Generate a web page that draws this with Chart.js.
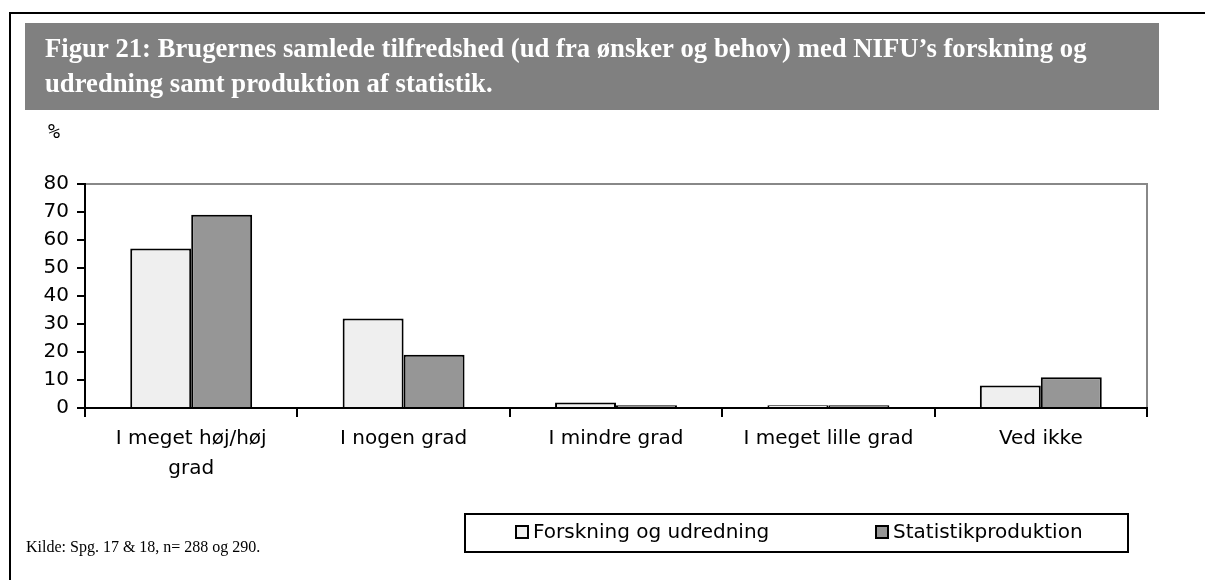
<!DOCTYPE html>
<html>
<head>
<meta charset="utf-8">
<script src="https://cdn.jsdelivr.net/npm/chart.js@4"></script>
<style>
  html, body { margin: 0; padding: 0; background: #fff; }
  #wrap { width: 1205px; height: 580px; position: relative; }
</style>
</head>
<body>
<div id="wrap"><canvas id="myChart" width="1205" height="580"></canvas></div>
<script>
// Chart data
const categories = [['I meget høj/høj', 'grad'], 'I nogen grad', 'I mindre grad', 'I meget lille grad', 'Ved ikke'];
const forskning = [57, 32, 2, 1, 8];
const statistik = [69, 19, 1, 1, 11];
const seriesNames = ['Forskning og udredning', 'Statistikproduktion'];
const yMax = 80;
const yStep = 10;

const titleLines = [
    'Figur 21: Brugernes samlede tilfredshed (ud fra ønsker og behov) med NIFU\u2019s forskning og',
    'udredning samt produktion af statistik.'
];
const sourceText = 'Kilde: Spg. 17 & 18, n= 288 og 290.';

const labelFont = '"DejaVu Sans", sans-serif';

// Frame, title box, % label, source, plot border and legend box
const decorations = {
    id: 'decorations',
    beforeDraw(chart) {
        const c = chart.ctx;
        c.save();
        c.fillStyle = '#fff';
        c.fillRect(0, 0, chart.width, chart.height);
        // outer frame (left + top)
        c.strokeStyle = '#000';
        c.lineWidth = 2;
        c.beginPath();
        c.moveTo(10, 580);
        c.lineTo(10, 13);
        c.lineTo(1205, 13);
        c.stroke();
        // title box
        c.fillStyle = '#808080';
        c.fillRect(25, 23, 1134, 87);
        c.fillStyle = '#fff';
        c.font = 'bold 26.7px "Liberation Serif", "Times New Roman", serif';
        c.textBaseline = 'alphabetic';
        c.fillText(titleLines[0], 45, 57);
        c.fillText(titleLines[1], 45, 92);
        // % label
        c.fillStyle = '#000';
        c.font = '20px "DejaVu Sans Mono", monospace';
        c.fillText('%', 48, 138);
        // source
        c.font = '16px "Liberation Serif", "Times New Roman", serif';
        c.fillText(sourceText, 26, 552);
        c.restore();
    },
    afterDraw(chart) {
        const c = chart.ctx;
        const a = chart.chartArea;
        c.save();
        // gray top/right border of plot area
        c.strokeStyle = '#888';
        c.lineWidth = 2;
        c.beginPath();
        c.moveTo(a.left + 1, a.top);
        c.lineTo(a.right, a.top);
        c.lineTo(a.right, a.bottom - 1);
        c.stroke();
        // legend box
        c.strokeStyle = '#000';
        c.lineWidth = 2;
        c.strokeRect(465, 514, 663, 38);
        const xs = [516, 876];
        c.font = '20px ' + labelFont;
        c.textBaseline = 'middle';
        chart.data.datasets.forEach((ds, i) => {
            c.fillStyle = ds.backgroundColor;
            c.fillRect(xs[i], 526, 12, 12);
            c.lineWidth = 2;
            c.strokeStyle = '#000';
            c.strokeRect(xs[i], 526, 12, 12);
            c.fillStyle = '#000';
            c.fillText(ds.label, xs[i] + 17, 533);
        });
        c.restore();
    }
};

const ctx = document.getElementById('myChart').getContext('2d');

const myChart = new Chart(ctx, {
    type: 'bar',
    data: {
        labels: categories,
        datasets: [{
            label: seriesNames[0],
            data: forskning,
            backgroundColor: '#efefef',
            borderColor: '#000',
            borderWidth: 2
        }, {
            label: seriesNames[1],
            data: statistik,
            backgroundColor: '#969696',
            borderColor: '#000',
            borderWidth: 2
        }]
    },
    options: {
        responsive: false,
        animation: false,
        datasets: {
            bar: {
                categoryPercentage: 0.574,
                barPercentage: 1
            }
        },
        layout: {
            padding: { left: 0, top: 184, right: 58, bottom: 92 }
        },
        plugins: {
            legend: { display: false },
            tooltip: { enabled: false }
        },
        scales: {
            x: {
                grid: {
                    offset: true,
                    drawOnChartArea: false,
                    tickLength: 9,
                    color: '#000',
                    lineWidth: 2
                },
                border: { color: '#000', width: 2 },
                ticks: {
                    color: '#000',
                    font: { family: labelFont, size: 20, lineHeight: 1.5 },
                    padding: 7,
                    maxRotation: 0,
                    autoSkip: false
                },
                afterFit(scale) { scale.height = 80; }
            },
            y: {
                min: 0,
                max: yMax,
                grid: {
                    drawOnChartArea: false,
                    tickLength: 8,
                    color: '#000',
                    lineWidth: 2
                },
                border: { color: '#000', width: 2 },
                ticks: {
                    stepSize: yStep,
                    color: '#000',
                    font: { family: labelFont, size: 20 },
                    padding: 8
                },
                afterFit(scale) { scale.width = 85; }
            }
        }
    },
    plugins: [decorations]
});
</script>
</body>
</html>
